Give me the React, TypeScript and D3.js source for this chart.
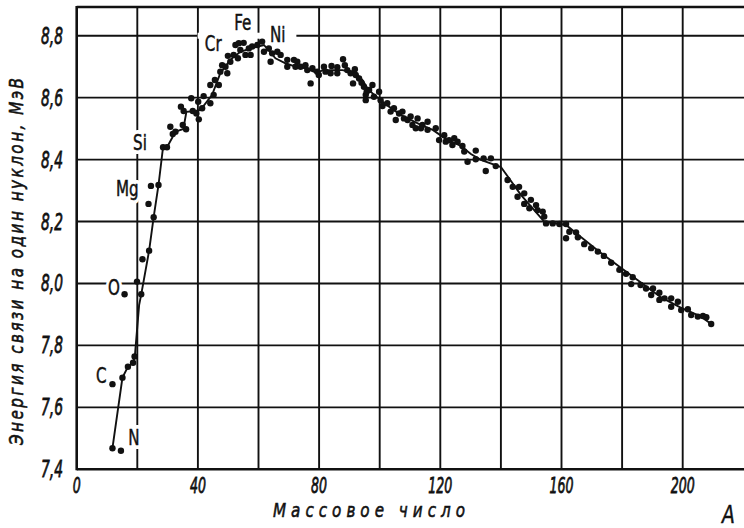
import React from 'react';
import * as d3 from 'd3';

// Mass number A of each measured nucleus and its binding energy per nucleon (MeV)
const massNumbers = [
  11.8, 14.6, 11.8, 15.1, 16.9, 18.6, 19.1, 15.8, 19.9, 21.3, 21.7, 23.9,
  23.7, 24.5, 27.0, 25.4,
  28.5, 29.8, 30.9, 31.7, 32.6, 35.0, 36.1, 34.4, 35.3, 37.8, 38.3, 39.5, 40.3, 40.1, 41.4, 41.9,
  44.1, 45.2, 44.1, 45.6, 46.9, 47.4, 48.0, 49.7, 49.1, 50.7, 49.9, 51.8, 53.2, 52.4, 53.5, 55.1,
  54.0, 55.7, 57.4, 56.8, 57.9, 59.6, 61.2, 61.8,
  63.4, 64.0, 64.5, 66.2, 67.3, 69.5, 69.5, 71.7, 72.8, 72.2, 73.9, 75.5, 76.1, 77.2, 77.8, 79.4,
  79.9, 81.6, 82.1, 83.8, 84.1, 86.0, 86.0, 87.9, 88.5, 89.3, 90.4, 91.8, 92.1, 91.2, 93.2, 94.0,
  94.8, 95.4, 96.5, 97.6, 95.7,
  98.1, 99.8, 95.4, 100.3, 100.9, 102.5, 103.6, 104.7, 105.3, 106.4, 107.5, 108.0, 109.2, 110.2,
  110.8, 112.5, 111.9, 113.6, 114.1, 115.8, 115.8, 118.5, 119.6, 121.3, 121.8, 122.9, 124.0, 124.6, 125.7,
  127.3, 127.9, 129.0, 131.7, 131.7, 134.3, 135.0, 136.7, 138.3, 142.2, 143.9, 146.0, 145.5, 147.7,
  147.7, 149.9, 149.4, 151.6, 152.1, 153.8, 154.3,
  154.9, 157.1, 159.3, 161.5, 161.5, 162.6, 164.8, 165.4, 167.5, 169.8, 172.0, 174.0, 176.4, 179.1,
  181.3, 183.5, 183.0, 186.1, 187.9, 190.2, 189.6, 192.3, 192.3, 194.0, 196.2, 196.2, 198.4, 199.5,
  201.7, 202.8, 205.0, 206.7, 207.8, 209.4,
];
const bindingEnergies = [
  7.468, 7.460, 7.675, 7.696, 7.731, 7.744, 7.764, 7.965, 8.006, 7.965, 8.078, 8.106,
  8.257, 8.315, 8.318, 8.214,
  8.440, 8.440, 8.506, 8.483, 8.490, 8.512, 8.498, 8.571, 8.557, 8.598, 8.557, 8.549, 8.530, 8.587, 8.566, 8.605,
  8.582, 8.609, 8.641, 8.657, 8.641, 8.684, 8.705, 8.679, 8.700, 8.716, 8.735, 8.738, 8.727, 8.770, 8.776, 8.777,
  8.754, 8.738, 8.738, 8.759, 8.765, 8.770, 8.781, 8.748,
  8.759, 8.716, 8.743, 8.748, 8.738, 8.722, 8.700, 8.722, 8.716, 8.700, 8.700, 8.705, 8.689, 8.646, 8.695, 8.684,
  8.673, 8.700, 8.684, 8.679, 8.702, 8.698, 8.679, 8.724, 8.705, 8.689, 8.679, 8.692, 8.673, 8.646, 8.662, 8.648,
  8.635, 8.609, 8.625, 8.641, 8.619,
  8.603, 8.619, 8.592, 8.592, 8.573, 8.582, 8.555, 8.566, 8.528, 8.549, 8.555, 8.533, 8.528, 8.539,
  8.512, 8.533, 8.501, 8.501, 8.512, 8.522, 8.496, 8.501, 8.463, 8.479, 8.458, 8.463, 8.447, 8.469, 8.458,
  8.444, 8.426, 8.393, 8.429, 8.401, 8.404, 8.363, 8.404, 8.379, 8.334, 8.312, 8.312, 8.280, 8.291,
  8.257, 8.270, 8.243, 8.253, 8.237, 8.232, 8.216,
  8.194, 8.194, 8.192, 8.192, 8.146, 8.167, 8.165, 8.149, 8.127, 8.114, 8.103, 8.089, 8.067, 8.044,
  8.031, 8.020, 7.998, 7.995, 7.984, 7.984, 7.963, 7.970, 7.947, 7.952, 7.952, 7.925, 7.941, 7.914,
  7.917, 7.898, 7.893, 7.895, 7.891, 7.869,
];

// Smoothed curve drawn through the data
const curveMass = [
  11.8, 15.1, 16.9, 18.6, 19.2, 20.6, 21.3, 23.9, 25.4, 27.0, 28.5, 29.8, 32.6, 35.2, 36.2, 39.2,
  40.8, 44.7, 47.4, 50.7, 54.0, 57.4, 61.8, 65.6, 68.9, 72.2, 75.5, 79.4, 81.1, 87.7, 92.1, 94.3,
  96.3, 100.3, 103.6, 107.0, 110.2, 113.6, 117.5, 121.8, 126.8, 130.1, 133.4, 140.0, 146.6, 154.3,
  161.5, 166.4, 173.1, 179.7, 186.3, 192.9, 199.5, 206.1, 209.4,
];
const curveEnergy = [
  7.468, 7.696, 7.731, 7.744, 7.766, 7.930, 7.965, 8.106, 8.214, 8.318, 8.440, 8.440, 8.490, 8.499, 8.554, 8.557,
  8.560, 8.609, 8.679, 8.722, 8.748, 8.759, 8.770, 8.727, 8.711, 8.700, 8.695, 8.679, 8.689, 8.689, 8.679, 8.657,
  8.625, 8.592, 8.567, 8.544, 8.528, 8.512, 8.496, 8.467, 8.444, 8.418, 8.399, 8.376, 8.286, 8.200,
  8.189, 8.150, 8.098, 8.050, 8.002, 7.955, 7.921, 7.893, 7.869,
];

const xTickValues = [0, 40, 80, 120, 160, 200];
const xGridValues = [20, 40, 60, 80, 100, 120, 140, 160, 180, 200];
const yTickValues = [7.4, 7.6, 7.8, 8.0, 8.2, 8.4, 8.6, 8.8];
const yGridValues = [7.6, 7.8, 8.0, 8.2, 8.4, 8.6, 8.8];

const elementNames = ['C', 'N', 'O', 'Mg', 'Si', 'Cr', 'Fe', 'Ni'];
const elementMass = [6.4, 17.0, 10.3, 13.0, 18.6, 42.3, 52.0, 63.8];
const elementEnergy = [7.679, 7.478, 7.963, 8.282, 8.431, 8.751, 8.818, 8.780];

const yTitle = 'Энергия связи на один нуклон, МэВ';
const xTitle = 'Массовое число';
const xSymbol = 'A';

const FONT = "'DejaVu Sans', sans-serif";
const INK = '#111';

type TProps = {
  x: number;
  y: number;
  sx: number;
  rotate?: number;
  children: React.ReactNode;
  [k: string]: any;
};

function T({ x, y, sx, rotate = 0, children, ...rest }: TProps) {
  return (
    <text transform={`translate(${x},${y}) rotate(${rotate}) scale(${sx},1)`} {...rest}>
      {children}
    </text>
  );
}

export default function App() {
  const W = 744;
  const H = 528;
  const x = d3.scaleLinear().domain([0, 220]).range([76.7, 743.3]);
  const y = d3.scaleLinear().domain([7.4, 8.8927]).range([469.3, 7]);

  const points = massNumbers.map((a, i) => [a, bindingEnergies[i]] as [number, number]);
  const curve = curveMass.map((a, i) => [a, curveEnergy[i]] as [number, number]);
  const line = d3
    .line<[number, number]>()
    .x((d) => x(d[0]))
    .y((d) => y(d[1]))
    .curve(d3.curveLinear);

  const fmt = (v: number) => v.toFixed(1).replace('.', ',');
  const x0 = x(0);
  const yTop = y(8.8927);
  const yBot = y(7.4);

  const labels = elementNames.map((n, i) => ({ n, a: elementMass[i], e: elementEnergy[i] }));
  const labelSx = 0.72;
  const tickSx = 0.6;
  const titleSx = 0.76;

  return (
    <svg
      width={W}
      height={H}
      viewBox={`0 0 ${W} ${H}`}
      style={{ position: 'absolute', left: 0, top: 0, background: '#fff' }}
    >
      <rect x={0} y={0} width={W} height={H} fill="#fff" />
      {/* grid */}
      <g stroke={INK} strokeWidth={1.9}>
        {xGridValues.map((v) => (
          <line key={'gx' + v} x1={x(v)} x2={x(v)} y1={yTop} y2={yBot} />
        ))}
        {yGridValues.map((v) => (
          <line key={'gy' + v} x1={x0} x2={W} y1={y(v)} y2={y(v)} />
        ))}
      </g>
      {/* knockout of the 8.8 grid line behind Cr / Fe / Ni */}
      <rect x={x(39.9)} width={x(72.5) - x(39.9)} y={y(8.8) - 3} height={6} fill="#fff" />
      {/* label halos */}
      <g fontFamily={FONT} fontSize={21} fill="#fff" stroke="#fff" strokeWidth={8} strokeLinejoin="round">
        {labels.map((l) => (
          <T key={'h' + l.n} x={x(l.a)} y={y(l.e)} sx={labelSx}>
            {l.n}
          </T>
        ))}
      </g>
      {/* frame */}
      <g stroke={INK} strokeWidth={2.6}>
        <line x1={x0} x2={x0} y1={yTop - 1} y2={yBot + 1} />
        <line x1={x0} x2={W} y1={yBot} y2={yBot} />
        <line x1={x0} x2={W} y1={yTop} y2={yTop} />
      </g>
      {/* curve */}
      <path d={line(curve) || ''} fill="none" stroke={INK} strokeWidth={1.9} />
      {/* points */}
      <g fill={INK}>
        {points.map((p, i) => (
          <circle key={'p' + i} cx={x(p[0])} cy={y(p[1])} r={3.2} />
        ))}
      </g>
      {/* element labels */}
      <g fontFamily={FONT} fontSize={21} fill={INK} stroke={INK} strokeWidth={0.5}>
        {labels.map((l) => (
          <T key={'t' + l.n} x={x(l.a)} y={y(l.e)} sx={labelSx}>
            {l.n}
          </T>
        ))}
      </g>
      {/* y tick labels */}
      <g fontFamily={FONT} fontStyle="italic" fontSize={23} fill={INK} stroke={INK} strokeWidth={0.8} textAnchor="end">
        {yTickValues.map((v) => (
          <T key={'yl' + v} x={63} y={y(v) + 8} sx={tickSx}>
            {fmt(v)}
          </T>
        ))}
      </g>
      {/* x tick labels */}
      <g fontFamily={FONT} fontStyle="italic" fontSize={21} fill={INK} stroke={INK} strokeWidth={0.8} textAnchor="middle">
        {xTickValues.map((v) => (
          <T key={'xl' + v} x={x(v)} y={493} sx={tickSx}>
            {v}
          </T>
        ))}
      </g>
      {/* axis titles */}
      <T
        x={273}
        y={517}
        sx={titleSx}
        fontFamily={FONT}
        fontStyle="italic"
        fontSize={20}
        fill={INK}
        stroke={INK}
        strokeWidth={0.6}
        textLength={192 / titleSx}
        lengthAdjust="spacing"
      >
        {xTitle}
      </T>
      <T x={722} y={523} sx={0.75} fontFamily={FONT} fontStyle="italic" fontSize={25} fill={INK} stroke={INK} strokeWidth={0.5}>
        {xSymbol}
      </T>
      <T
        x={23}
        y={261.5}
        rotate={-90}
        sx={titleSx}
        textAnchor="middle"
        fontFamily={FONT}
        fontStyle="italic"
        fontSize={20}
        fill={INK}
        stroke={INK}
        strokeWidth={0.6}
        textLength={367 / titleSx}
        lengthAdjust="spacing"
      >
        {yTitle}
      </T>
    </svg>
  );
}
